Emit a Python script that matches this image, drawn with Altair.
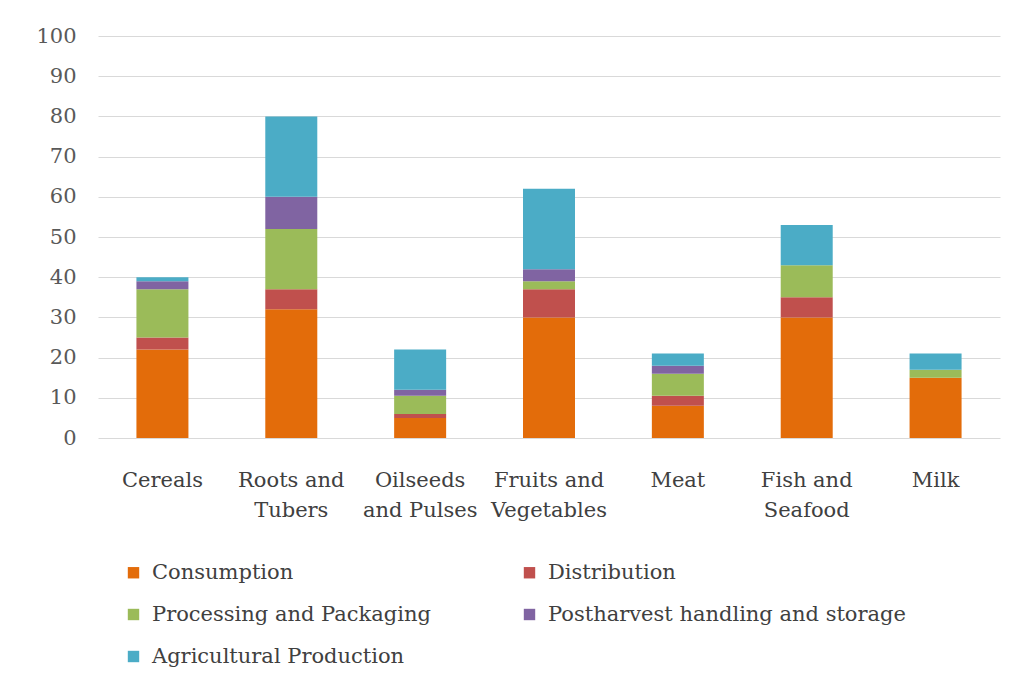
import altair as alt
import pandas as pd

categories = ["Cereals", "Roots and Tubers", "Oilseeds and Pulses", "Fruits and Vegetables",
              "Meat", "Fish and Seafood", "Milk"]
label_lines = {
    "Cereals": ["Cereals"],
    "Roots and Tubers": ["Roots and", "Tubers"],
    "Oilseeds and Pulses": ["Oilseeds", "and Pulses"],
    "Fruits and Vegetables": ["Fruits and", "Vegetables"],
    "Meat": ["Meat"],
    "Fish and Seafood": ["Fish and", "Seafood"],
    "Milk": ["Milk"],
}
stages = ["Consumption", "Distribution", "Processing and Packaging",
          "Postharvest handling and storage", "Agricultural Production"]
colors = ["#E36C0A", "#C0504D", "#9BBB59", "#8064A2", "#4BACC6"]

consumption = [22, 32, 5, 30, 8, 30, 15]
distribution = [3, 5, 1, 7, 2.5, 5, 0]
processing = [12, 15, 4.5, 2, 5.5, 8, 2]
postharvest = [2, 8, 1.5, 3, 2, 0, 0]
agricultural = [1, 20, 10, 20, 3, 10, 4]

series = [consumption, distribution, processing, postharvest, agricultural]
rows = []
for si, (stage, vals) in enumerate(zip(stages, series)):
    for c, v in zip(categories, vals):
        rows.append({"Category": c, "Stage": stage, "Order": si, "Value": v})
df = pd.DataFrame(rows)

expr = "".join(
    f"datum.label == '{k}' ? {v!r} : " for k, v in label_lines.items()
) + "datum.label"

font = "DejaVu Serif"

chart = alt.Chart(df).mark_bar(size=52).encode(
    x=alt.X("Category:N", sort=categories, title=None,
            scale=alt.Scale(paddingInner=0.6, paddingOuter=0.3),
            axis=alt.Axis(labelAngle=0, labelExpr=expr, labelPadding=31, ticks=False,
                          domain=False, labelFontSize=21, labelColor="#404040",
                          labelFont=font, labelLineHeight=30, labelBaseline="top")),
    y=alt.Y("Value:Q", stack="zero", title=None,
            scale=alt.Scale(domain=[0, 100]),
            axis=alt.Axis(values=list(range(0, 101, 10)), ticks=False, domain=False,
                          labelPadding=22, labelFontSize=21, labelColor="#595959",
                          labelFont=font, gridColor="#D9D9D9", gridWidth=1.2)),
    color=alt.Color("Stage:N", sort=stages,
                    scale=alt.Scale(domain=stages, range=colors),
                    legend=alt.Legend(title=None, orient="none", legendX=25, legendY=526,
                                      columns=2, columnPadding=88, rowPadding=20,
                                      symbolType="square", symbolSize=130,
                                      symbolStrokeWidth=0, labelFontSize=21,
                                      labelFont=font, labelColor="#404040",
                                      labelOffset=8,
                                      labelLimit=400, direction="horizontal")),
    order=alt.Order("Order:Q", sort="ascending"),
).properties(
    width=902, height=402,
    autosize=alt.AutoSizeParams(type="none"),
    padding={"left": 90, "top": 28, "right": 4, "bottom": 240},
).configure(background="white").configure_view(stroke=None)

chart.save("out.html", embed_options={"renderer": "svg", "actions": False})
